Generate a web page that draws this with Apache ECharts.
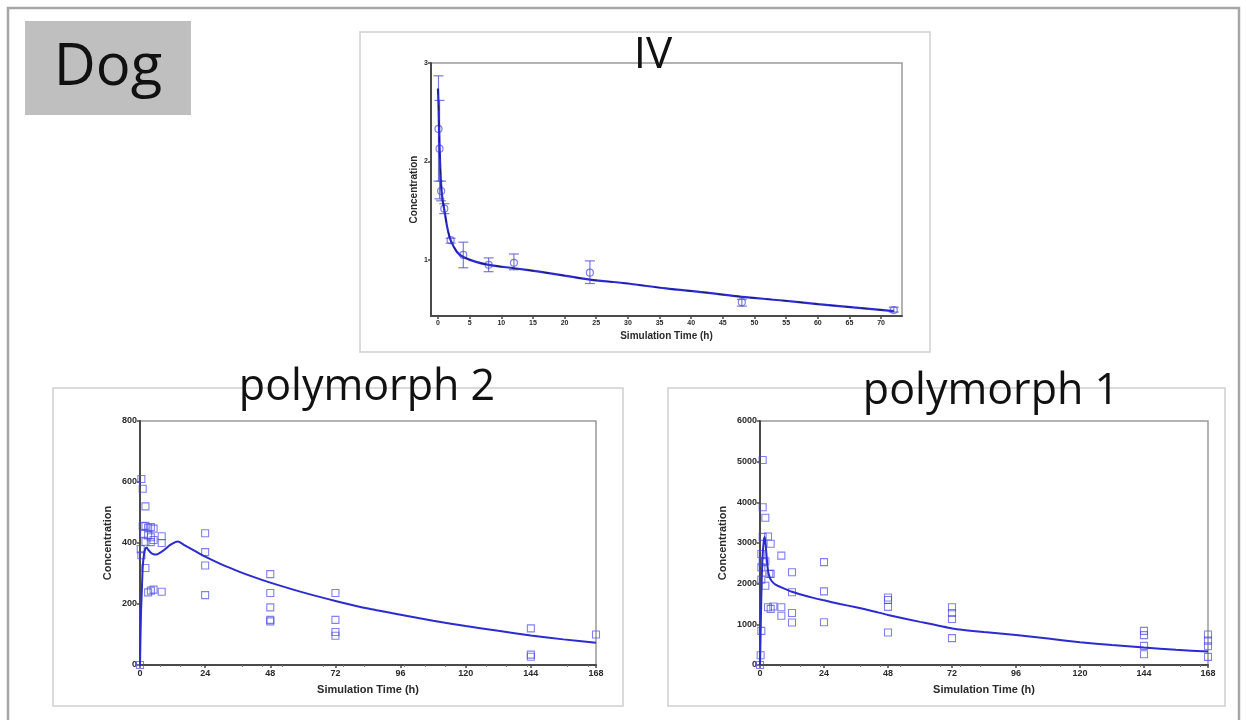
<!DOCTYPE html>
<html>
<head>
<meta charset="utf-8">
<title>Dog PK profiles</title>
<script src="https://cdn.jsdelivr.net/npm/echarts@6/dist/echarts.min.js"></script>
<style>
  html, body { margin: 0; padding: 0; background: #ffffff; }
  #chart { width: 1246px; height: 720px; }
</style>
</head>
<body>
<div id="chart"></div>
<script>
// ---- IV dosing: observed mean with error bar limits, and simulated curve ----
const ivObsTime = [0.083, 0.25, 0.5, 1, 2, 4, 8, 12, 24, 48, 72];
const ivObsMean = [2.33, 2.13, 1.70, 1.52, 1.20, 1.05, 0.95, 0.97, 0.87, 0.57, 0.49];
const ivObsLow  = [1.80, 1.62, 1.60, 1.47, 1.17, 0.92, 0.88, 0.90, 0.76, 0.53, 0.47];
const ivObsHigh = [2.87, 2.62, 1.80, 1.57, 1.22, 1.18, 1.02, 1.06, 0.99, 0.60, 0.52];
const ivSimTime = [0, 0.1, 0.25, 0.5, 0.75, 1, 1.5, 2, 3, 4, 6, 8, 12, 16, 20, 24, 30, 36, 42, 48, 54, 60, 66, 72];
const ivSimConc = [2.74, 2.55, 2.15, 1.76, 1.60, 1.51, 1.32, 1.20, 1.08, 1.03, 0.98, 0.95, 0.915, 0.88, 0.84, 0.80, 0.76, 0.71, 0.67, 0.625, 0.59, 0.55, 0.515, 0.48];
const ivXTicks = [0, 5, 10, 15, 20, 25, 30, 35, 40, 45, 50, 55, 60, 65, 70];
const ivYTicks = [1, 2, 3];

// ---- polymorph 2: individual observations and simulated curve ----
const p2ObsTime = [0, 0.25, 0.5, 0.5, 1, 1, 1.5, 2, 2, 2, 2, 3, 3, 3, 4, 4, 4, 4, 5, 5, 5, 8, 8, 8, 24, 24, 24, 24, 48, 48, 48, 48, 48, 72, 72, 72, 72, 144, 144, 144, 168];
const p2ObsConc = [0, 380, 610, 360, 578, 455, 430, 520, 404, 456, 318, 450, 425, 238, 452, 419, 403, 244, 447, 410, 247, 422, 400, 240, 432, 370, 326, 229, 298, 236, 189, 148, 143, 236, 148, 108, 96, 120, 34, 27, 100];
const p2SimTime = [0, 0.2, 0.4, 0.7, 1, 1.5, 2, 2.5, 3, 4, 5, 6, 7, 9, 11, 13, 14, 16, 20, 24, 30, 36, 42, 48, 60, 72, 84, 96, 108, 120, 132, 144, 156, 168];
const p2SimConc = [0, 100, 180, 250, 320, 365, 382, 385, 378, 368, 363, 362, 366, 378, 393, 403, 405, 395, 375, 355, 330, 308, 288, 270, 238, 210, 185, 165, 145, 128, 112, 97, 84, 73];

// ---- polymorph 1: individual observations and simulated curve ----
const p1ObsTime = [0, 0.25, 0.5, 0.5, 0.5, 0.5, 1, 1, 1, 1, 2, 2, 2, 3, 3, 3.5, 4, 4, 4, 5, 8, 8, 8, 12, 12, 12, 12, 24, 24, 24, 48, 48, 48, 48, 72, 72, 72, 72, 144, 144, 144, 144, 168, 168, 168, 168];
const p1ObsConc = [0, 240, 840, 2730, 2400, 2100, 5040, 3880, 3150, 2530, 3620, 2550, 1950, 3160, 1420, 2240, 2980, 2240, 1380, 1440, 2690, 1420, 1210, 2280, 1790, 1280, 1045, 2530, 1810, 1050, 1660, 1600, 1430, 800, 1420, 1280, 1130, 660, 840, 735, 470, 265, 750, 600, 460, 200];
const p1SimTime = [0, 0.3, 0.6, 1, 1.5, 1.8, 2.2, 2.7, 3.2, 4, 5, 6, 8, 12, 16, 20, 24, 30, 36, 42, 48, 60, 72, 84, 96, 108, 120, 132, 144, 156, 168];
const p1SimConc = [0, 1000, 2000, 2700, 3100, 3150, 2900, 2500, 2250, 2100, 2020, 1970, 1910, 1800, 1720, 1650, 1590, 1500, 1420, 1330, 1230, 1060, 900, 810, 740, 650, 560, 490, 430, 375, 330];

const oralXTicks = [0, 24, 48, 72, 96, 120, 144, 168];

const zip = (a, b) => a.map((v, i) => [v, b[i]]);

const lineBlue = '#2b2bd0';
const markBlue = 'rgba(70, 70, 225, 0.85)';
const axisDark = '#4a4a4a';
const labelFont = { fontFamily: 'Liberation Sans, Arial, sans-serif', fontWeight: 'bold', color: '#2a2a2a' };
const plain = v => String(v);

function xAxisCfg(gridIndex, min, max, ticks, size, nameSize, nameGap, minor) {
  return {
    type: 'value', gridIndex, min, max,
    name: 'Simulation Time (h)', nameLocation: 'middle', nameGap,
    nameTextStyle: Object.assign({ fontSize: nameSize }, labelFont),
    splitLine: { show: false },
    axisLine: { show: true, onZero: false, lineStyle: { color: axisDark, width: 2 } },
    axisTick: { show: true, customValues: ticks, length: 3, lineStyle: { color: axisDark, width: 1.5 } },
    minorTick: { show: !!minor, splitNumber: 4, length: 2, lineStyle: { color: '#777' } },
    axisLabel: Object.assign({ customValues: ticks, fontSize: size, margin: 4, formatter: plain }, labelFont)
  };
}
function yAxisCfg(gridIndex, min, max, ticks, size, nameSize, nameGap) {
  return {
    type: 'value', gridIndex, min, max,
    name: 'Concentration', nameLocation: 'middle', nameGap, nameRotate: 90,
    nameTextStyle: Object.assign({ fontSize: nameSize }, labelFont),
    splitLine: { show: false },
    axisLine: { show: true, onZero: false, lineStyle: { color: axisDark, width: 2 } },
    axisTick: { show: true, customValues: ticks, length: 3, lineStyle: { color: axisDark, width: 1.5 } },
    axisLabel: Object.assign({ customValues: ticks, fontSize: size, margin: 3, formatter: plain }, labelFont)
  };
}

const titleFont = 'Open Sans, Noto Sans, sans-serif';

const chart = echarts.init(document.getElementById('chart'), null, { renderer: 'canvas' });
chart.setOption({
  animation: false,
  backgroundColor: '#ffffff',
  graphic: [
    // outer frame
    { type: 'rect', shape: { x: 8, y: 8, width: 1231, height: 720 }, style: { fill: 'none', stroke: '#a6a6a6', lineWidth: 2.5 }, z: 0 },
    // species tag
    { type: 'rect', shape: { x: 25, y: 21, width: 166, height: 94 }, style: { fill: '#bfbfbf' }, z: 1 },
    { type: 'text', x: 108, y: 68, style: { text: 'Dog', fontSize: 58, fontFamily: titleFont, fill: '#111', align: 'center', verticalAlign: 'middle' }, z: 2 },
    // panel boxes
    { type: 'rect', shape: { x: 360, y: 32, width: 570, height: 320 }, style: { fill: 'none', stroke: '#d0d0d0', lineWidth: 1.5 }, z: 1 },
    { type: 'rect', shape: { x: 53, y: 388, width: 570, height: 318 }, style: { fill: 'none', stroke: '#d0d0d0', lineWidth: 1.5 }, z: 1 },
    { type: 'rect', shape: { x: 668, y: 388, width: 557, height: 318 }, style: { fill: 'none', stroke: '#d0d0d0', lineWidth: 1.5 }, z: 1 }
  ],
  title: [
    { text: 'IV', left: 648, top: 50, textAlign: 'center', textVerticalAlign: 'middle', textStyle: { fontSize: 44, fontWeight: 'normal', fontFamily: titleFont, color: '#111' }, z: 10 },
    { text: 'polymorph 2', left: 362, top: 383, textAlign: 'center', textVerticalAlign: 'middle', textStyle: { fontSize: 43, fontWeight: 'normal', fontFamily: titleFont, color: '#111' }, z: 10 },
    { text: 'polymorph 1', left: 986, top: 387, textAlign: 'center', textVerticalAlign: 'middle', textStyle: { fontSize: 43, fontWeight: 'normal', fontFamily: titleFont, color: '#111' }, z: 10 }
  ],
  grid: [
    { left: 431, top: 63, width: 471, height: 253, show: true, borderColor: '#9a9a9a', borderWidth: 1.5, backgroundColor: 'transparent', containLabel: false },
    { left: 140, top: 421, width: 456, height: 244, show: true, borderColor: '#9a9a9a', borderWidth: 1.5, backgroundColor: 'transparent', containLabel: false },
    { left: 760, top: 421, width: 448, height: 244, show: true, borderColor: '#9a9a9a', borderWidth: 1.5, backgroundColor: 'transparent', containLabel: false }
  ],
  xAxis: [
    xAxisCfg(0, -1.1, 73.3, ivXTicks, 7, 10, 15, false),
    xAxisCfg(1, 0, 168, oralXTicks, 9, 11, 19, true),
    xAxisCfg(2, 0, 168, oralXTicks, 9, 11, 19, true)
  ],
  yAxis: [
    yAxisCfg(0, 0.43, 3, ivYTicks, 7, 10, 12),
    yAxisCfg(1, 0, 800, [0, 200, 400, 600, 800], 9, 11, 27),
    yAxisCfg(2, 0, 6000, [0, 1000, 2000, 3000, 4000, 5000, 6000], 9, 11, 32)
  ],
  series: [
    // IV
    {
      type: 'custom', xAxisIndex: 0, yAxisIndex: 0, z: 3,
      data: ivObsTime.map((t, i) => [t, ivObsLow[i], ivObsHigh[i]]),
      renderItem: function (params, api) {
        const lo = api.coord([api.value(0), api.value(1)]);
        const hi = api.coord([api.value(0), api.value(2)]);
        const w = 5;
        const st = { stroke: 'rgba(90, 90, 200, 0.8)', lineWidth: 1.2 };
        return {
          type: 'group',
          children: [
            { type: 'line', shape: { x1: lo[0], y1: lo[1], x2: hi[0], y2: hi[1] }, style: st },
            { type: 'line', shape: { x1: lo[0] - w, y1: lo[1], x2: lo[0] + w, y2: lo[1] }, style: st },
            { type: 'line', shape: { x1: hi[0] - w, y1: hi[1], x2: hi[0] + w, y2: hi[1] }, style: st }
          ]
        };
      }
    },
    {
      type: 'scatter', xAxisIndex: 0, yAxisIndex: 0, z: 4,
      data: zip(ivObsTime, ivObsMean),
      symbol: 'circle', symbolSize: 7,
      itemStyle: { color: 'rgba(255,255,255,0)', borderColor: markBlue, borderWidth: 1.2 }
    },
    {
      type: 'line', xAxisIndex: 0, yAxisIndex: 0, z: 5,
      data: zip(ivSimTime, ivSimConc), smooth: 0.3, showSymbol: false,
      lineStyle: { color: lineBlue, width: 2.2 }
    },
    {
      type: 'line', xAxisIndex: 0, yAxisIndex: 0, z: 6,
      data: zip(ivSimTime, ivSimConc), smooth: 0.3, showSymbol: false,
      lineStyle: { color: '#1a1a60', width: 1, type: [6, 10] }
    },
    // polymorph 2
    {
      type: 'scatter', xAxisIndex: 1, yAxisIndex: 1, z: 4,
      data: zip(p2ObsTime, p2ObsConc),
      symbol: 'rect', symbolSize: 7,
      itemStyle: { color: 'rgba(255,255,255,0)', borderColor: markBlue, borderWidth: 1.1 }
    },
    {
      type: 'line', xAxisIndex: 1, yAxisIndex: 1, z: 5,
      data: zip(p2SimTime, p2SimConc), smooth: 0.2, showSymbol: false,
      lineStyle: { color: lineBlue, width: 2 }
    },
    // polymorph 1
    {
      type: 'scatter', xAxisIndex: 2, yAxisIndex: 2, z: 4,
      data: zip(p1ObsTime, p1ObsConc),
      symbol: 'rect', symbolSize: 7,
      itemStyle: { color: 'rgba(255,255,255,0)', borderColor: markBlue, borderWidth: 1.1 }
    },
    {
      type: 'line', xAxisIndex: 2, yAxisIndex: 2, z: 5,
      data: zip(p1SimTime, p1SimConc), smooth: 0.2, showSymbol: false,
      lineStyle: { color: lineBlue, width: 2 }
    }
  ]
});
</script>
</body>
</html>
